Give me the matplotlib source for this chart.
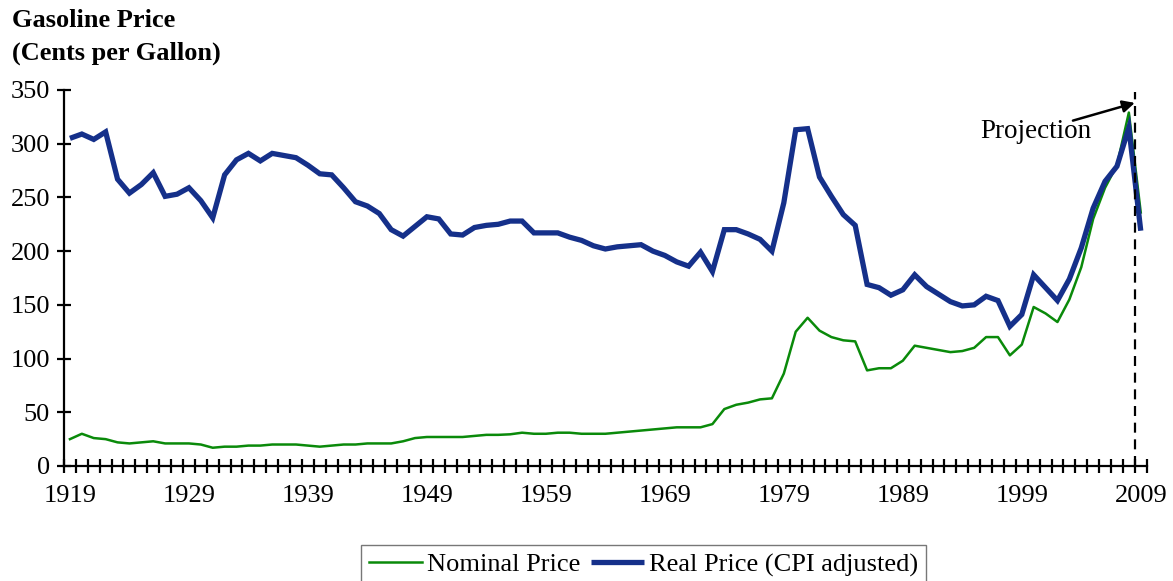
import matplotlib
matplotlib.use("Agg")
import matplotlib.pyplot as plt
import numpy as np

years = list(range(1919, 2010))

nominal = [25, 30, 26, 25, 22, 21, 22, 23, 21, 21,
           21, 20, 17, 18, 18, 19, 19, 20, 20, 20,
           19, 18, 19, 20, 20, 21, 21, 21, 23, 26,
           27, 27, 27, 27, 28, 29, 29, 29.5, 31, 30,
           30, 31, 31, 30, 30, 30, 31, 32, 33, 34,
           35, 36, 36, 36, 39, 53, 57, 59, 62, 63,
           86, 125, 138, 126, 120, 117, 116, 89, 91, 91,
           98, 112, 110, 108, 106, 107, 110, 120, 120, 103,
           113, 148, 142, 134, 155, 185, 230, 259, 280, 329,
           236]

real = [305, 309, 304, 311, 267, 254, 262, 273, 251, 253,
        259, 247, 231, 271, 285, 291, 284, 291, 289, 287,
        280, 272, 271, 259, 246, 242, 235, 220, 214, 223,
        232, 230, 216, 215, 222, 224, 225, 228, 228, 217,
        217, 217, 213, 210, 205, 202, 204, 205, 206, 200,
        196, 190, 186, 199, 181, 220, 220, 216, 211, 200,
        245, 313, 314, 269, 251, 234, 224, 169, 166, 159,
        164, 178, 167, 160, 153, 149, 150, 158, 154, 130,
        141, 178, 166, 154, 174, 203, 240, 265, 279, 315,
        219]

series_labels = ["Nominal Price", "Real Price (CPI adjusted)"]
title_text = "Gasoline Price\n(Cents per Gallon)"
y_ticks = [0, 50, 100, 150, 200, 250, 300, 350]
x_label_years = list(range(1919, 2010, 10))
projection_label = "Projection"
projection_year = 2008.5

GREEN = "#0a8a0a"
BLUE = "#15308a"
FONT = "Liberation Serif"

fig = plt.figure(figsize=(11.73, 5.81), dpi=100)
ax = fig.add_axes([64 / 1173, 1 - 466 / 581, (1146.7 - 64) / 1173, (466 - 90) / 581])

ln1, = ax.plot(years, nominal, color=GREEN, lw=1.8, label=series_labels[0], zorder=3)
ln2, = ax.plot(years, real, color=BLUE, lw=3.8, label=series_labels[1], zorder=4,
               solid_joinstyle="miter", solid_capstyle="butt")

ax.set_xlim(1918.5, 2009.5)
ax.set_ylim(0, 350)

for s in ["top", "right"]:
    ax.spines[s].set_visible(False)
for s in ["left", "bottom"]:
    ax.spines[s].set_linewidth(1.6)
    ax.spines[s].set_color("black")

ax.set_yticks(y_ticks)
ax.tick_params(axis="y", direction="inout", length=10, width=1.6, pad=5,
               labelsize=19)
ax.set_xticks(x_label_years)
ax.set_xticks(np.arange(1918.5, 2010, 1.0), minor=True)
ax.tick_params(axis="x", which="major", length=0, pad=14, labelsize=19)
ax.tick_params(axis="x", which="minor", direction="inout", length=10, width=1.6)
for lab in ax.get_xticklabels() + ax.get_yticklabels():
    lab.set_fontfamily(FONT)

# projection dashed line
ax.plot([projection_year, projection_year], [0, 348], color="black", lw=1.6,
        ls=(0, (4.5, 3)), zorder=5, clip_on=False)
ax.annotate("", xy=(projection_year, 338), xytext=(2003.3, 321.5),
            arrowprops=dict(arrowstyle="-|>", color="black", lw=1.8,
                            mutation_scale=18, shrinkA=0, shrinkB=0))
ax.text(2000.2, 311.5, projection_label, ha="center", va="center",
        fontsize=19.5, family=FONT)

fig.text(12 / 1173, 1 - 9 / 581, title_text, ha="left", va="top",
         fontsize=19, fontweight="bold", family=FONT, linespacing=1.55)

leg = fig.legend(handles=[ln1, ln2], labels=series_labels, loc="upper center",
                 bbox_to_anchor=(643.5 / 1173, 1 - 545 / 581), ncol=2,
                 frameon=True, fancybox=False, edgecolor="#555555",
                 prop={"family": FONT, "size": 19}, handlelength=2.0,
                 handletextpad=0.2, columnspacing=0.4, borderpad=0.3,
                 borderaxespad=0)
leg.get_frame().set_linewidth(1.0)

fig.savefig("out.png", dpi=100)
